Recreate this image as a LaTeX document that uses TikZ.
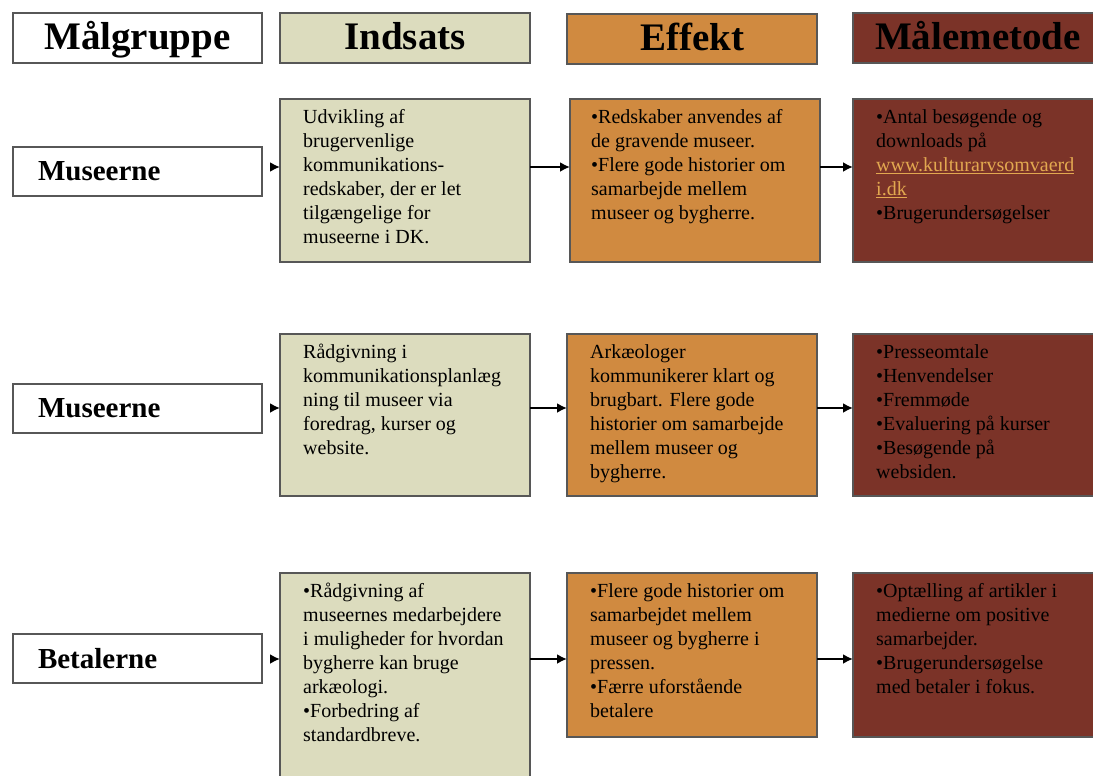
\documentclass[tikz,border=0pt]{standalone}
\usepackage{fontspec}
\setmainfont{Liberation Serif}
\usetikzlibrary{arrows.meta}
\definecolor{khaki}{HTML}{DCDCBE}
\definecolor{orangec}{HTML}{D08A40}
\definecolor{brownc}{HTML}{7B3328}
\definecolor{bordc}{HTML}{575757}
\definecolor{linkc}{HTML}{E2A850}
\tikzset{
  box/.style={draw=bordc, line width=2pt, anchor=north west, inner sep=0pt, outer sep=0pt},
  hdr/.style={box, minimum height=50pt, text height=30pt, text depth=6pt, font=\fontsize{39}{42}\selectfont\bfseries},
  lbl/.style={box, fill=white, minimum width=249pt, minimum height=49pt, text width=199pt, inner xsep=25pt, align=left, font=\fontsize{29}{32}\selectfont\bfseries},
  txt/.style={anchor=north west, inner sep=0pt, align=left, font=\fontsize{20}{24}\selectfont},
  arr/.style={-{Latex[length=10pt,width=10pt]}, line width=2pt, black},
  stub/.style={arr, shorten <=8pt}
}
\newcommand\lnk[1]{\textcolor{linkc}{\underline{#1}}}
\begin{document}
\begin{tikzpicture}[x=1pt,y=-1pt]
\clip (0,0) rectangle (1093,776);
\fill[white] (0,0) rectangle (1093,776);
% headers
\node[hdr, fill=white, minimum width=249pt] (H1) at (13,13) {Målgruppe};
\node[hdr, fill=khaki, minimum width=250pt] (H2) at (280,13) {Indsats};
\node[hdr, fill=orangec, minimum width=250pt] (H3) at (567,14) {Effekt};
\node[hdr, fill=brownc, minimum width=250pt] (H4) at (853,13) {Målemetode};
% row levels
\coordinate (r1) at (0,167);
\coordinate (r2) at (0,408);
\coordinate (r3) at (0,659);
% row 1
\node[lbl] (L1) at (13,147) {Museerne};
\node[box, fill=khaki, minimum width=250pt, minimum height=163pt] (I1) at (280,99) {};
\node[box, fill=orangec, minimum width=250pt, minimum height=163pt] (E1) at (570,99) {};
\node[box, fill=brownc, minimum width=250pt, minimum height=163pt] (M1) at (853,99) {};
\node[txt] (I1t) at ([shift={(23,10)}]I1.north west) {Udvikling af\\brugervenlige\\kommunikations-\\redskaber, der er let\\tilgængelige for\\museerne i DK.};
\node[txt] (E1t) at ([shift={(21,10)}]E1.north west) {•Redskaber anvendes af\\de gravende museer.\\•Flere gode historier om\\samarbejde mellem\\museer og bygherre.};
\node[txt] (M1t) at ([shift={(23,10)}]M1.north west) {•Antal besøgende og\\downloads på\\\lnk{www.kulturarvsomvaerd}\\\lnk{i.dk}\\•Brugerundersøgelser};
% row 2
\node[lbl] (L2) at (13,384) {Museerne};
\node[box, fill=khaki, minimum width=250pt, minimum height=162pt] (I2) at (280,334) {};
\node[box, fill=orangec, minimum width=250pt, minimum height=162pt] (E2) at (567,334) {};
\node[box, fill=brownc, minimum width=250pt, minimum height=162pt] (M2) at (853,334) {};
\node[txt] (I2t) at ([shift={(23,10)}]I2.north west) {Rådgivning i\\kommunikationsplanlæg\\ning til museer via\\foredrag, kurser og\\website.};
\node[txt] (E2t) at ([shift={(23,10)}]E2.north west) {Arkæologer\\kommunikerer klart og\\brugbart. Flere gode\\historier om samarbejde\\mellem museer og\\bygherre.};
\node[txt] (M2t) at ([shift={(23,10)}]M2.north west) {•Presseomtale\\•Henvendelser\\•Fremmøde\\•Evaluering på kurser\\•Besøgende på\\websiden.};
% row 3
\node[lbl] (L3) at (13,634) {Betalerne};
\node[box, fill=khaki, minimum width=250pt, minimum height=220pt] (I3) at (280,573) {};
\node[box, fill=orangec, minimum width=250pt, minimum height=164pt] (E3) at (567,573) {};
\node[box, fill=brownc, minimum width=250pt, minimum height=164pt] (M3) at (853,573) {};
\node[txt] (I3t) at ([shift={(23,10)}]I3.north west) {•Rådgivning af\\museernes medarbejdere\\i muligheder for hvordan\\bygherre kan bruge\\arkæologi.\\•Forbedring af\\standardbreve.};
\node[txt] (E3t) at ([shift={(23,10)}]E3.north west) {•Flere gode historier om\\samarbejdet mellem\\museer og bygherre i\\pressen.\\•Færre uforstående\\betalere};
\node[txt] (M3t) at ([shift={(23,10)}]M3.north west) {•Optælling af artikler i\\medierne om positive\\samarbejder.\\•Brugerundersøgelse\\med betaler i fokus.};
% connectors
\draw[stub] (L1.east |- r1) -- (I1.west |- r1);
\draw[stub] (L2.east |- r2) -- (I2.west |- r2);
\draw[stub] (L3.east |- r3) -- (I3.west |- r3);
\draw[arr] (I1.east |- r1) -- (E1.west |- r1);
\draw[arr] (E1.east |- r1) -- (M1.west |- r1);
\draw[arr] (I2.east |- r2) -- (E2.west |- r2);
\draw[arr] (E2.east |- r2) -- (M2.west |- r2);
\draw[arr] (I3.east |- r3) -- (E3.west |- r3);
\draw[arr] (E3.east |- r3) -- (M3.west |- r3);
\end{tikzpicture}
\end{document}
